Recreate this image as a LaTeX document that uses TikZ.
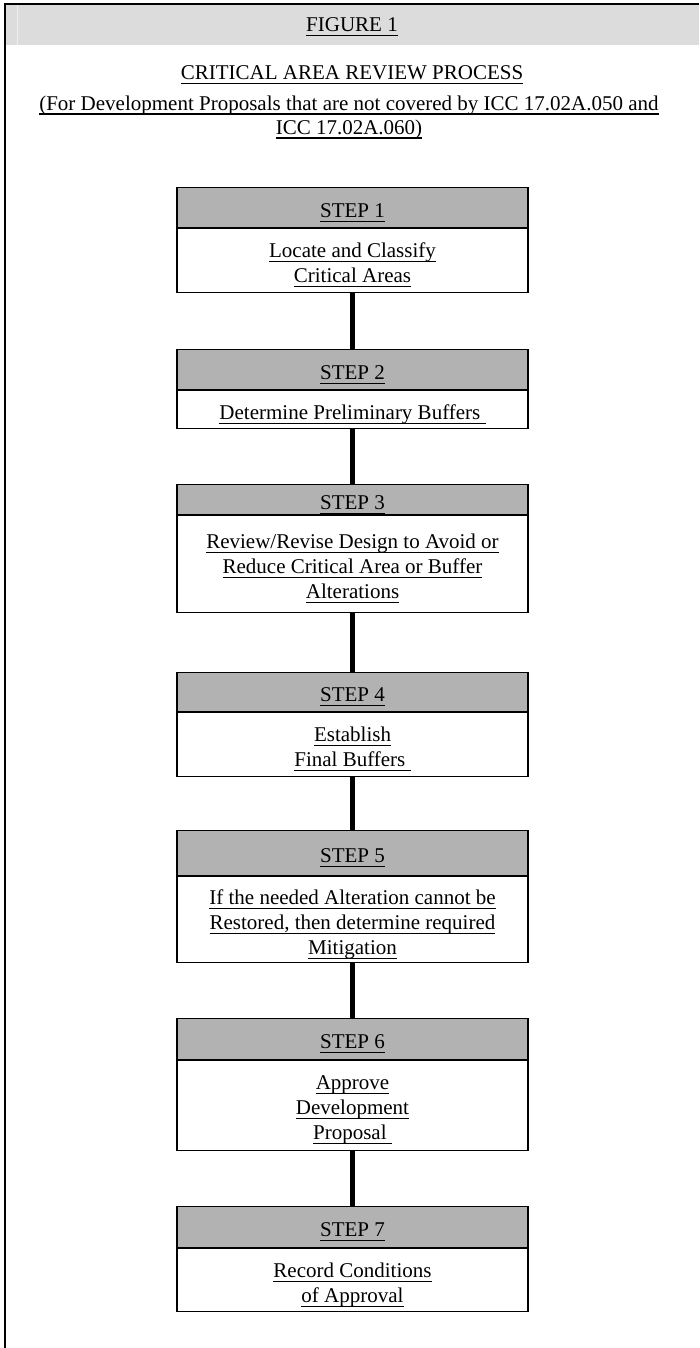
\documentclass[tikz,border=0pt]{standalone}
\usepackage{fontspec}
\setmainfont{Liberation Serif}
\definecolor{bandgray}{HTML}{DCDCDC}
\definecolor{stepgray}{HTML}{B2B2B2}
\definecolor{seamgray}{HTML}{EEEEEE}
\newcommand\uln[1]{\leavevmode\setbox0\hbox{#1}\rlap{\rule[-4.5pt]{\wd0}{1.1pt}}\box0}
\tikzset{
  stephead/.style={draw=black, line width=1.3pt, fill=stepgray, minimum width=351pt, inner sep=0pt, anchor=north},
  stepbody/.style={draw=black, line width=1.3pt, fill=white, minimum width=351pt, inner sep=0pt, anchor=north},
  steptext/.style={align=center, inner sep=0pt},
  link/.style={line width=5pt},
  divider/.style={line width=2.2pt},
}
\begin{document}
\begin{tikzpicture}[x=1pt,y=-1pt,font=\fontsize{21}{25}\selectfont]
\useasboundingbox (0,0) rectangle (699,1348);
\fill[bandgray] (5,4) rectangle (699,45);
\draw[seamgray,line width=1pt] (17,4) -- (17,45);
\draw[line width=1.5pt] (5,1348) -- (5,4) -- (699,4);
\node (fig) at (352,27) {\uln{FIGURE 1}};
\node (title) at (352,74.5) {\uln{CRITICAL AREA REVIEW PROCESS}};
\node[align=center,font=\fontsize{21}{24}\selectfont] (scope) at (349,117) {\uln{(For Development Proposals that are not covered by ICC 17.02A.050 and}\\\uln{ICC 17.02A.060)}};

% boxes: header (grey) and body (white)
\node[stephead,minimum height=40pt] (h1) at (352.5,187) {};
\node[stepbody,minimum height=65pt] (b1) at (352.5,227) {};
\node[stephead,minimum height=40pt] (h2) at (352.5,349) {};
\node[stepbody,minimum height=39pt] (b2) at (352.5,389) {};
\node[stephead,minimum height=30pt] (h3) at (352.5,484) {};
\node[stepbody,minimum height=98pt] (b3) at (352.5,514) {};
\node[stephead,minimum height=39pt] (h4) at (352.5,672) {};
\node[stepbody,minimum height=65pt] (b4) at (352.5,711) {};
\node[stephead,minimum height=45pt] (h5) at (352.5,830) {};
\node[stepbody,minimum height=87pt] (b5) at (352.5,875) {};
\node[stephead,minimum height=41pt] (h6) at (352.5,1018) {};
\node[stepbody,minimum height=91pt] (b6) at (352.5,1059) {};
\node[stephead,minimum height=41pt] (h7) at (352.5,1206) {};
\node[stepbody,minimum height=64pt] (b7) at (352.5,1247) {};

\foreach \i in {1,...,7} {
  \draw[divider] (h\i.south west) -- (h\i.south east);
}

% texts
\node[steptext] (th1) at ([yshift=-5pt]h1.center) {\uln{STEP 1}};
\node[steptext] (tb1) at ([yshift=-5pt]b1.center) {\uln{Locate and Classify}\\\uln{Critical Areas}};
\node[steptext] (th2) at ([yshift=-5pt]h2.center) {\uln{STEP 2}};
\node[steptext] (tb2) at ([yshift=-5pt]b2.center) {\uln{Determine Preliminary Buffers\ }};
\node[steptext] (th3) at ([yshift=-5pt]h3.center) {\uln{STEP 3}};
\node[steptext] (tb3) at ([yshift=-5pt]b3.center) {\uln{Review/Revise Design to Avoid or}\\\uln{Reduce Critical Area or Buffer}\\\uln{Alterations}};
\node[steptext] (th4) at ([yshift=-5pt]h4.center) {\uln{STEP 4}};
\node[steptext] (tb4) at ([yshift=-5pt]b4.center) {\uln{Establish}\\\uln{Final Buffers\ }};
\node[steptext] (th5) at ([yshift=-5pt]h5.center) {\uln{STEP 5}};
\node[steptext] (tb5) at ([yshift=-5pt]b5.center) {\uln{If the needed Alteration cannot be}\\\uln{Restored, then determine required}\\\uln{Mitigation}};
\node[steptext] (th6) at ([yshift=-5pt]h6.center) {\uln{STEP 6}};
\node[steptext] (tb6) at ([yshift=-5pt]b6.center) {\uln{Approve}\\\uln{Development}\\\uln{Proposal\ }};
\node[steptext] (th7) at ([yshift=-5pt]h7.center) {\uln{STEP 7}};
\node[steptext] (tb7) at ([yshift=-5pt]b7.center) {\uln{Record Conditions}\\\uln{of Approval}};

% connectors
\draw[link] (b1.south) -- (h2.north);
\draw[link] (b2.south) -- (h3.north);
\draw[link] (b3.south) -- (h4.north);
\draw[link] (b4.south) -- (h5.north);
\draw[link] (b5.south) -- (h6.north);
\draw[link] (b6.south) -- (h7.north);
\end{tikzpicture}
\end{document}
